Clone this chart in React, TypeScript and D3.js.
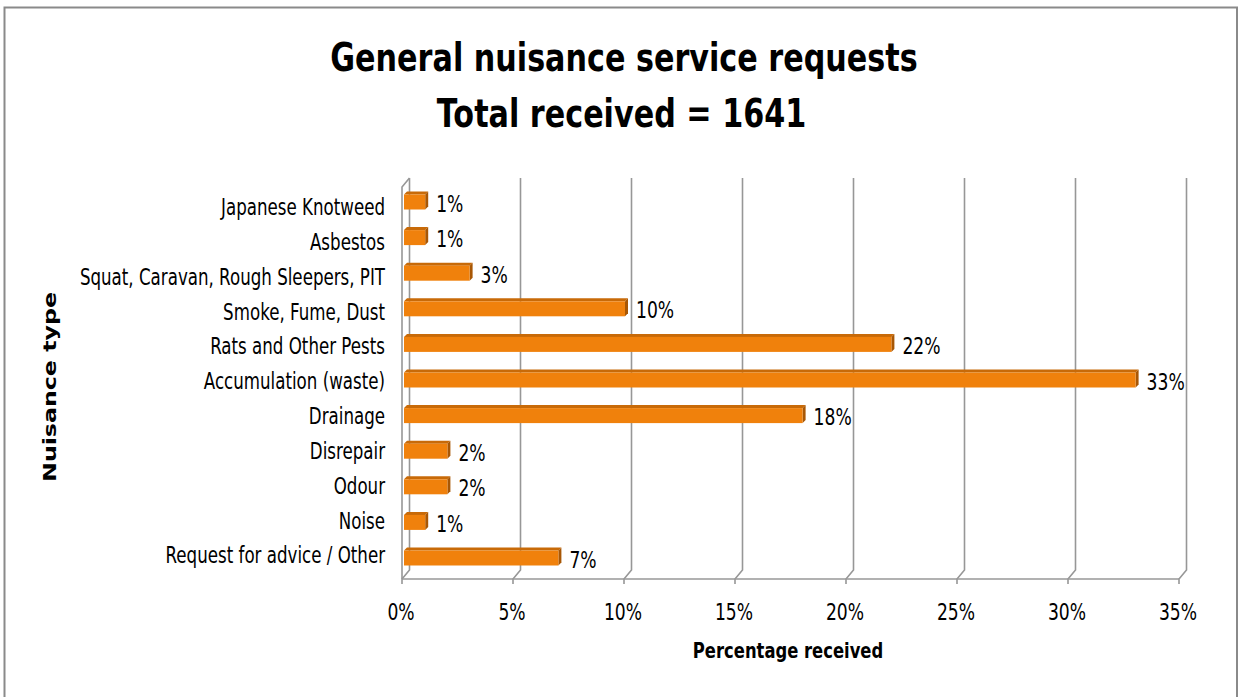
import React from "react";
import * as d3 from "d3";

const categories = [
  "Japanese Knotweed",
  "Asbestos",
  "Squat, Caravan, Rough Sleepers, PIT",
  "Smoke, Fume, Dust",
  "Rats and Other Pests",
  "Accumulation (waste)",
  "Drainage",
  "Disrepair",
  "Odour",
  "Noise",
  "Request for advice / Other",
];
const values = [1, 1, 3, 10, 22, 33, 18, 2, 2, 1, 7];
const tickValues = [0, 5, 10, 15, 20, 25, 30, 35];
const titleLines = ["General nuisance service requests", "Total received = 1641"];
const xTitle = "Percentage received";
const yTitle = "Nuisance type";

const W = 1242;
const H = 697;
const SX = 0.73; // horizontal text compression
const FONT = "'DejaVu Sans', Verdana, sans-serif";
const DX = 7.5; // depth offset x
const DY = -9; // depth offset y
const FLOOR = 579;
const WALL_TOP = 178;

function T({ x, y, sx = SX, size = 23.5, weight = "normal", anchor = "start", rotate = 0, children }: any) {
  return (
    <g transform={`translate(${x},${y}) scale(${sx},1)${rotate ? ` rotate(${rotate})` : ""}`}>
      <text fontFamily={FONT} fontSize={size} fontWeight={weight} textAnchor={anchor} fill="#000">
        {children}
      </text>
    </g>
  );
}

export default function App() {
  const x = d3.scaleLinear().domain([0, 35]).range([402, 1179]);
  const barBand = d3.scaleBand().domain(categories).range([184.2, 575.8]);
  const labelBand = d3.scaleBand().domain(categories).range([189.07, 572.42]);

  const gridColor = "#979797";
  const faceH = 15;
  const capD = 3;

  return (
    <svg width={W} height={H} style={{ position: "absolute", left: 0, top: 0, background: "#fff" }}>
      <rect x={4.5} y={7.5} width={1232.5} height={700} fill="#fff" stroke="#8a8a8a" strokeWidth={2} />

      {/* titles */}
      <T x={624} y={71} sx={0.775} size={39} weight="bold" anchor="middle">{titleLines[0]}</T>
      <T x={621.5} y={127} sx={0.775} size={39} weight="bold" anchor="middle">{titleLines[1]}</T>

      {/* left wall edge */}
      <path
        d={`M${x(0)},${FLOOR} L${x(0)},${WALL_TOP - DY} L${x(0) + DX},${WALL_TOP}`}
        fill="none"
        stroke={gridColor}
        strokeWidth={1.6}
      />
      {/* gridlines on back wall with floor diagonals */}
      {tickValues.map((t) => (
        <path
          key={"g" + t}
          d={`M${x(t) + DX},${WALL_TOP} L${x(t) + DX},${FLOOR + DY} L${x(t)},${FLOOR} L${x(t)},${FLOOR + 5}`}
          fill="none"
          stroke={gridColor}
          strokeWidth={1.6}
        />
      ))}
      <line x1={x(0)} x2={x(35)} y1={FLOOR} y2={FLOOR} stroke={gridColor} strokeWidth={1.6} />

      {/* bars */}
      {categories.map((c, i) => {
        const cy = (barBand(c) as number) + barBand.bandwidth() / 2;
        const x0 = x(0) + 2;
        const x1 = x(values[i]) + 1;
        const top = cy - faceH / 2;
        const bot = cy + faceH / 2;
        return (
          <g key={c}>
            <path
              d={`M${x0},${top} L${x1},${top} L${x1 + capD},${top - capD} L${x0 + capD},${top - capD} Z`}
              fill="#c86a08"
            />
            <path
              d={`M${x1},${top} L${x1 + capD},${top - capD} L${x1 + capD},${bot - capD} L${x1},${bot} Z`}
              fill="#a85705"
            />
            <rect x={x0} y={top} width={x1 - x0} height={faceH} fill="#f0810c" />
            <T x={x(values[i]) + 12} y={cy + 9.5}>{`${values[i]}%`}</T>
          </g>
        );
      })}

      {/* category labels */}
      {categories.map((c) => (
        <T
          key={"l" + c}
          x={385}
          y={(labelBand(c) as number) + labelBand.bandwidth() / 2 + 8.5}
          sx={0.71}
          anchor="end"
        >
          {c}
        </T>
      ))}

      {/* tick labels */}
      {tickValues.map((t) => (
        <T key={"t" + t} x={x(t) - 1} y={619.5} anchor="middle">{`${t}%`}</T>
      ))}

      <T x={788} y={658} sx={0.8} size={20.5} weight="bold" anchor="middle">{xTitle}</T>
      <T x={56} y={387} sx={0.75} size={23.7} weight="bold" anchor="middle" rotate={-90}>{yTitle}</T>
    </svg>
  );
}
